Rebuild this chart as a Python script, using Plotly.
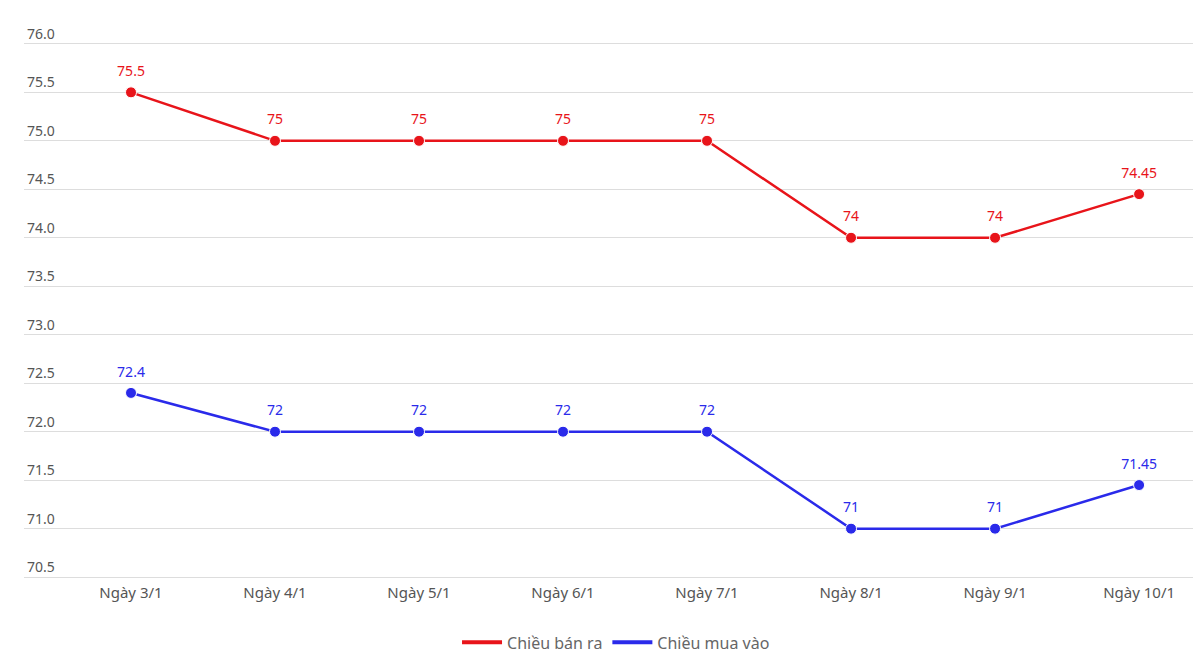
import plotly.graph_objects as go

categories = ["Ngày 3/1", "Ngày 4/1", "Ngày 5/1", "Ngày 6/1", "Ngày 7/1", "Ngày 8/1", "Ngày 9/1", "Ngày 10/1"]
ban_ra = [75.5, 75, 75, 75, 75, 74, 74, 74.45]
mua_vao = [72.4, 72, 72, 72, 72, 71, 71, 71.45]
ban_ra_labels = ["75.5", "75", "75", "75", "75", "74", "74", "74.45"]
mua_vao_labels = ["72.4", "72", "72", "72", "72", "71", "71", "71.45"]
y_ticks = [70.5, 71.0, 71.5, 72.0, 72.5, 73.0, 73.5, 74.0, 74.5, 75.0, 75.5, 76.0]

RED = "#e8141a"
BLUE = "#2a2aea"
FONT = "Noto Sans, Open Sans, sans-serif"

xs = list(range(len(categories)))

fig = go.Figure()
for vals, labels, color in [(ban_ra, ban_ra_labels, RED), (mua_vao, mua_vao_labels, BLUE)]:
    fig.add_trace(go.Scatter(
        x=xs, y=vals, showlegend=False, hoverinfo="skip",
        mode="markers+text", text=labels, textposition="top center",
        textfont=dict(color=color, size=14, family=FONT),
        marker=dict(color="rgba(0,0,0,0)", size=19),
        cliponaxis=False,
    ))
    fig.add_trace(go.Scatter(
        x=xs, y=vals, showlegend=False,
        mode="lines+markers",
        line=dict(color=color, width=2.5),
        marker=dict(color=color, size=11, line=dict(color="white", width=1)),
        cliponaxis=False,
    ))
for name, color in [("Chiều bán ra", RED), ("Chiều mua vào", BLUE)]:
    fig.add_trace(go.Scatter(
        x=[None], y=[None], name=name, mode="lines",
        line=dict(color=color, width=4),
    ))

fig.update_layout(
    width=1193, height=650,
    margin=dict(l=16, r=0, t=31, b=76),
    plot_bgcolor="white", paper_bgcolor="white",
    font=dict(family=FONT, size=14, color="#555555"),
    showlegend=True,
    legend=dict(orientation="h", x=0.503, xanchor="center",
                yref="container", y=0.024, yanchor="middle",
                font=dict(size=16, color="#666666"), itemwidth=40),
    xaxis=dict(
        tickmode="array", tickvals=xs, ticktext=categories,
        range=[-0.743, 7.43], showgrid=False, zeroline=False, showline=False,
        ticks="", ticklen=0, tickfont=dict(size=15, color="#555555"),
        automargin=False,
    ),
    yaxis=dict(
        range=[70.45, 76.05], tickmode="array", tickvals=y_ticks,
        ticktext=[f"{v:.1f}" for v in y_ticks],
        ticklabelposition="inside top", ticklabeloverflow="allow",
        showgrid=True, gridcolor="#dddddd", gridwidth=1, zeroline=False,
        showline=False, tickfont=dict(size=14, color="#555555"),
        automargin=False,
    ),
)

fig.write_html("out.html")
